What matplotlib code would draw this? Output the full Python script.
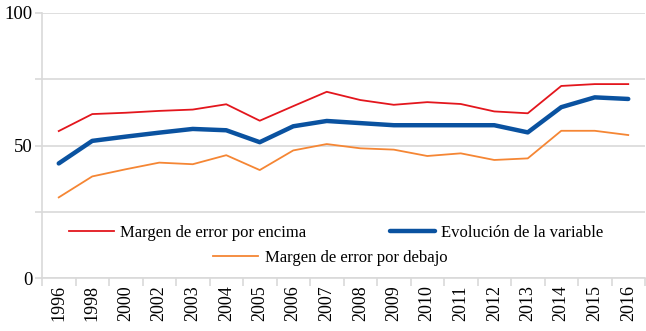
import matplotlib
matplotlib.use("Agg")
import matplotlib.pyplot as plt
import numpy as np

years = ["1996", "1998", "2000", "2002", "2003", "2004", "2005", "2006", "2007",
         "2008", "2009", "2010", "2011", "2012", "2013", "2014", "2015", "2016"]
encima = [55.5, 61.9, 62.4, 63.1, 63.6, 65.6, 59.4, 64.9, 70.3,
          67.2, 65.4, 66.4, 65.7, 62.9, 62.2, 72.5, 73.2, 73.2]
variable = [43.3, 51.8, 53.4, 54.9, 56.3, 55.8, 51.3, 57.3, 59.3,
            58.5, 57.7, 57.7, 57.7, 57.7, 55.0, 64.5, 68.2, 67.6]
debajo = [30.5, 38.4, 41.1, 43.6, 43.0, 46.4, 40.8, 48.2, 50.6,
          49.0, 48.5, 46.1, 47.1, 44.6, 45.2, 55.6, 55.6, 54.0]

labels = ["Margen de error por encima", "Evolución de la variable",
          "Margen de error por debajo"]
c_red, c_blue, c_orange = "#e3161d", "#0a52a0", "#f58634"
grid_c = "#d9d9d9"

plt.rcParams['font.family'] = ['Liberation Serif', 'DejaVu Serif']

fig = plt.figure(figsize=(6.46, 3.31), dpi=100)
ax = fig.add_axes([42/646, 1-278.3/331, 603/646, 265.3/331])

x = np.arange(len(years))
l1, = ax.plot(x, encima, color=c_red, lw=1.3, label=labels[0])
l2, = ax.plot(x, variable, color=c_blue, lw=3.2, label=labels[1], solid_capstyle='round')
l3, = ax.plot(x, debajo, color=c_orange, lw=1.3, label=labels[2])

ax.set_xlim(-0.5, len(years) - 0.5)
ax.set_ylim(0, 100)
ax.set_yticks([0, 25, 50, 75, 100])
ax.set_yticklabels(["0", "", "50", "", "100"], fontsize=13.5)
ax.yaxis.grid(True, color=grid_c, lw=1.2)
ax.set_axisbelow(True)
ax.tick_params(axis='y', length=5, color=grid_c, width=1.2, pad=2)

ax.set_xticks(x)
ax.set_xticklabels(years, rotation=90, fontsize=13)
ax.tick_params(axis='x', which='major', length=0, pad=5)
ax.set_xticks(np.arange(-0.5, len(years)), minor=True)
ax.tick_params(axis='x', which='minor', length=6, color=grid_c, width=1.2)

for s in ['top', 'right']:
    ax.spines[s].set_visible(False)
for s in ['left', 'bottom']:
    ax.spines[s].set_color(grid_c)
    ax.spines[s].set_linewidth(1.2)

leg1 = ax.legend(handles=[l1, l2], ncol=2, loc='center', bbox_to_anchor=(0.4876, 0.171),
                 frameon=False, fontsize=12, handlelength=2.7, handletextpad=0.4,
                 columnspacing=5.0, borderpad=0, borderaxespad=0)
ax.add_artist(leg1)
leg2 = ax.legend(handles=[l3], loc='center', bbox_to_anchor=(0.478, 0.0765),
                 frameon=False, fontsize=12, handlelength=2.7, handletextpad=0.4,
                 borderpad=0, borderaxespad=0)

fig.savefig("out.png", dpi=100)
